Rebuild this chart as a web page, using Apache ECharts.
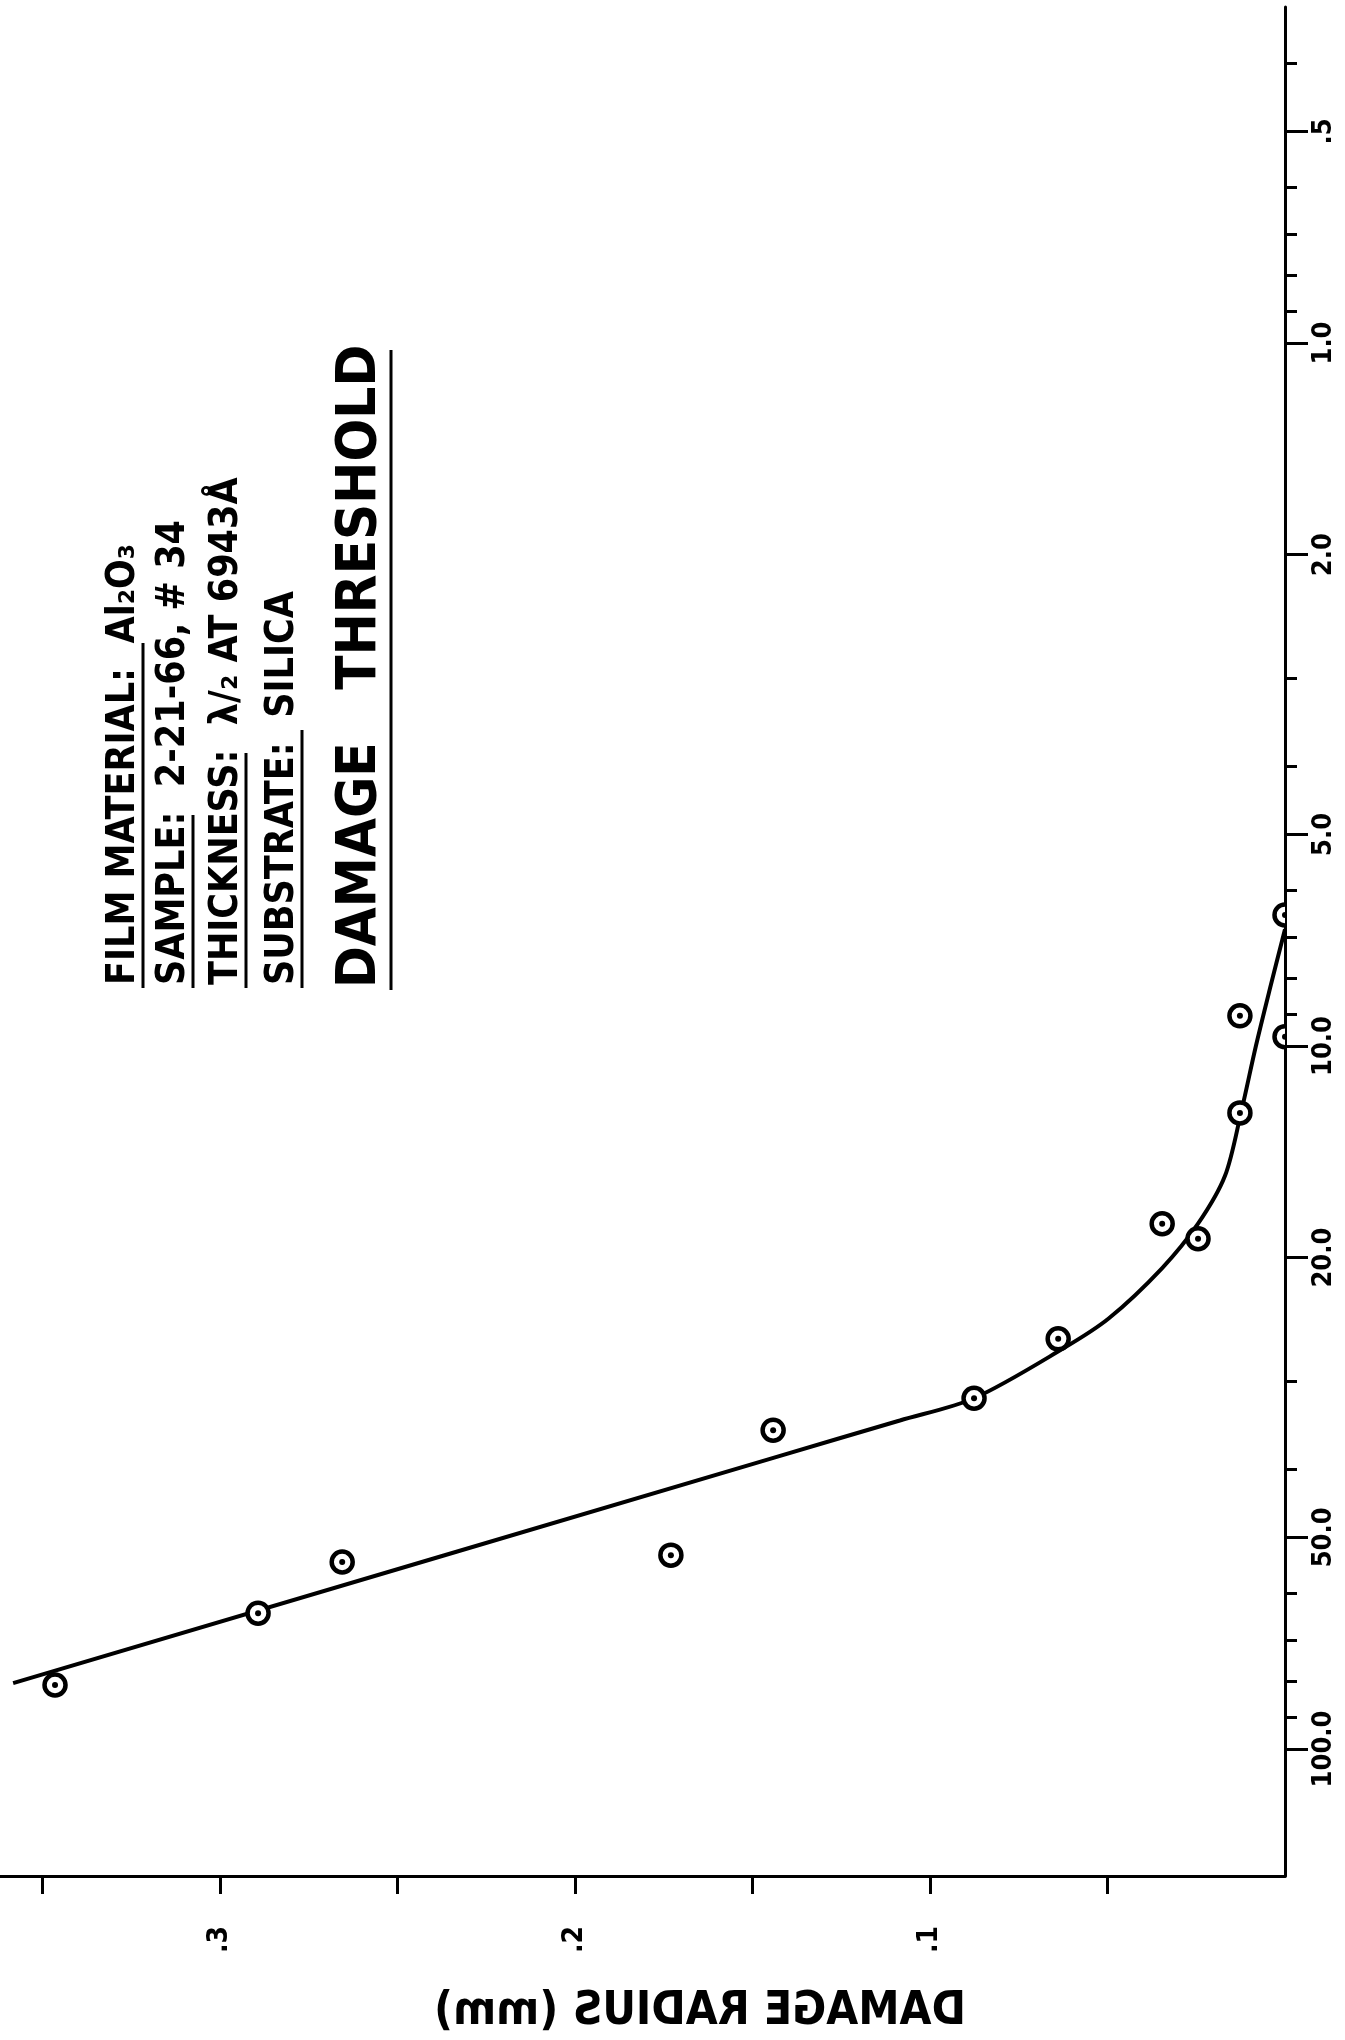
<!DOCTYPE html>
<html><head><meta charset="utf-8">
<script src="https://cdn.jsdelivr.net/npm/echarts@6/dist/echarts.min.js"></script>
<style>html,body{margin:0;padding:0;background:#fff}#c{width:1345px;height:2040px}</style>
</head><body><div id="c"></div>
<script>
// Measured data points: damage radius (mm) vs energy density (log axis)
const radiusPoints = [0.3465, 0.2893, 0.2656, 0.1730, 0.1442, 0.0876, 0.0639, 0.0346, 0.0245, 0.0127, 0.0127, 0.0, 0.0];
const energyPoints = [81.1, 64.1, 54.2, 53.0, 35.2, 31.7, 26.1, 17.9, 18.8, 12.45, 9.06, 9.7, 6.51];
// Hand-drawn fitted curve
const curveRadius = [0.3583, 0.1439, 0.1085, 0.0876, 0.0623, 0.0496, 0.0346, 0.0245, 0.0169, 0.0124, 0.0082, 0.0042, 0.0];
const curveEnergy = [80.6, 38.5, 34.1, 31.7, 26.9, 24.4, 20.7, 17.9, 15.3, 12.45, 10.0, 8.27, 6.82];
// Axis ticks
const energyTickValues = [0.5, 1, 2, 5, 10, 20, 50, 100];
const energyTickLabels = [".5", "1.0", "2.0", "5.0", "10.0", "20.0", "50.0", "100.0"];
const energyMinorTicks = [0.4, 0.6, 0.7, 0.8, 0.9, 3, 4, 6, 7, 8, 9, 30, 40, 60, 70, 80, 90];
const radiusTickValues = [0.05, 0.1, 0.15, 0.2, 0.25, 0.3, 0.35];
const radiusLabelValues = [0.1, 0.2, 0.3];
const radiusTickLabels = [".1", ".2", ".3"];
// Texts
const titleText = "DAMAGE   THRESHOLD";
const infoLines = [
  ["FILM MATERIAL:", "  Al\u2082O\u2083"],
  ["SAMPLE:", "  2-21-66, # 34"],
  ["THICKNESS:", "  \u03BB/\u2082 AT 6943\u00C5"],
  ["SUBSTRATE:", "  SILICA"]
];
const xAxisTitle = "DAMAGE RADIUS (mm)";

const FONT = "'DejaVu Sans Condensed', 'DejaVu Sans', sans-serif";
function lookup(v, vals, labels) {
  for (let i = 0; i < vals.length; i++) {
    if (Math.abs(Math.log10(v) - Math.log10(vals[i])) < 1e-4) return labels[i];
  }
  return '';
}
function lookupLin(v, vals, labels) {
  for (let i = 0; i < vals.length; i++) {
    if (Math.abs(v - vals[i]) < 1e-6) return labels[i];
  }
  return '';
}

const chart = echarts.init(document.getElementById('c'), null, {renderer: 'canvas'});

const infoX = [124, 174, 227, 283];
const infoStartY = 985;
const underlineEnd = [643, 815, 753, 730];
const graphics = [];
infoLines.forEach((ln, i) => {
  graphics.push({
    type: 'text', x: infoX[i], y: infoStartY, rotation: Math.PI / 2,
    style: {text: ln[0] + ln[1], fontSize: 39, fontWeight: 'bold', fontFamily: FONT, fill: '#000', align: 'left', verticalAlign: 'middle'}
  });
  graphics.push({
    type: 'line', shape: {x1: infoX[i] + 19, y1: infoStartY + 3, x2: infoX[i] + 19, y2: underlineEnd[i]},
    style: {stroke: '#000', lineWidth: 3}
  });
});
graphics.push({
  type: 'text', x: 360, y: 988, rotation: Math.PI / 2,
  style: {text: titleText, fontSize: 56, fontWeight: 'bold', fontFamily: FONT, fill: '#000', align: 'left', verticalAlign: 'middle'}
});
graphics.push({
  type: 'line', shape: {x1: 391, y1: 990, x2: 391, y2: 350},
  style: {stroke: '#000', lineWidth: 3}
});
graphics.push({
  type: 'text', x: 700, y: 2012, scaleX: -1,
  style: {text: xAxisTitle, fontSize: 46, fontWeight: 'bold', fontFamily: FONT, fill: '#000', align: 'center', verticalAlign: 'middle'}
});

const option = {
  backgroundColor: '#fff',
  animation: false,
  grid: {left: 0, right: 60, top: 7, bottom: 164, containLabel: false},
  xAxis: {
    type: 'value', inverse: true, min: 0, max: 0.362, position: 'bottom',
    axisLine: {show: true, lineStyle: {color: '#000', width: 3}},
    axisTick: {show: true, inside: false, length: 18, customValues: radiusTickValues, lineStyle: {color: '#000', width: 3}},
    axisLabel: {show: true, rotate: 90, margin: 50, fontSize: 28, fontWeight: 'bold', fontFamily: FONT, color: '#000',
      customValues: radiusLabelValues, formatter: v => lookupLin(v, radiusLabelValues, radiusTickLabels)},
    splitLine: {show: false}
  },
  yAxis: [{
    type: 'log', logBase: 10, inverse: true, min: 0.3327, max: 151.6, position: 'right',
    axisLine: {show: true, lineStyle: {color: '#000', width: 3}},
    axisTick: {show: true, inside: false, length: 23, customValues: energyTickValues, lineStyle: {color: '#000', width: 3}},
    axisLabel: {show: true, rotate: 90, margin: 25, fontSize: 27, fontWeight: 'bold', fontFamily: FONT, color: '#000',
      customValues: energyTickValues, formatter: v => lookup(v, energyTickValues, energyTickLabels)},
    splitLine: {show: false}, minorTick: {show: false}
  }, {
    type: 'log', logBase: 10, inverse: true, min: 0.3327, max: 151.6, position: 'right',
    axisLine: {show: false},
    axisTick: {show: true, inside: false, length: 12, customValues: energyMinorTicks, lineStyle: {color: '#000', width: 3}},
    axisLabel: {show: false},
    splitLine: {show: false}
  }],
  series: [{
    type: 'line', xAxisIndex: 0, yAxisIndex: 0, smooth: 0.3, showSymbol: false, symbol: 'none',
    lineStyle: {color: '#000', width: 4},
    data: curveRadius.map((r, i) => [r, curveEnergy[i]]),
    z: 2
  }, {
    type: 'custom', xAxisIndex: 0, yAxisIndex: 0, clip: true, z: 3,
    data: radiusPoints.map((r, i) => [r, energyPoints[i]]),
    renderItem: function (params, api) {
      const p = api.coord([api.value(0), api.value(1)]);
      return {type: 'group', children: [
        {type: 'circle', shape: {cx: p[0], cy: p[1], r: 10.5}, style: {fill: '#fff', stroke: '#000', lineWidth: 4.5}},
        {type: 'circle', shape: {cx: p[0], cy: p[1], r: 3}, style: {fill: '#000'}}
      ]};
    }
  }],
  graphic: graphics
};
chart.setOption(option);
</script></body></html>
